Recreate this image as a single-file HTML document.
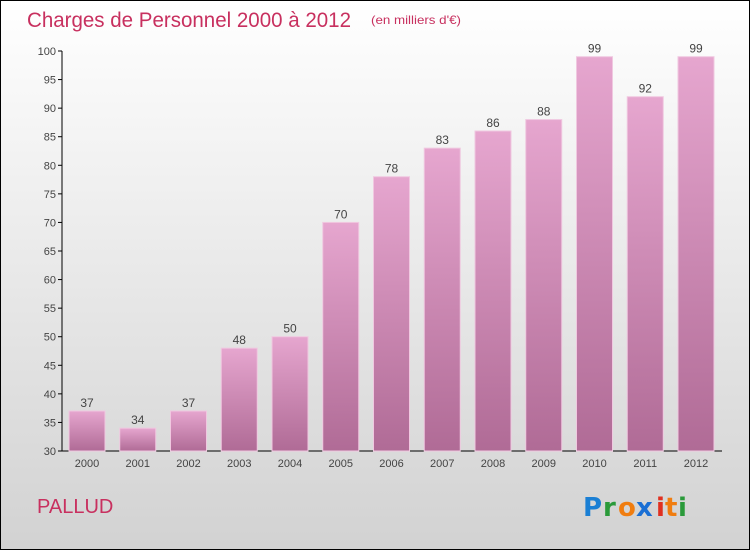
<!DOCTYPE html>
<html><head><meta charset="utf-8"><style>
body{margin:0}
#c{width:748px;height:548px;border:1px solid #000;background:linear-gradient(#ffffff,#d2d2d2);position:relative;overflow:hidden;font-family:"Liberation Sans",sans-serif}
</style></head><body>
<div id="c">
<svg width="748" height="548">
<defs><linearGradient id="g" x1="0" y1="0" x2="0" y2="1"><stop offset="0" stop-color="#e6a6cf"/><stop offset="1" stop-color="#b06b96"/></linearGradient></defs>
<text x="26" y="26" font-size="21" textLength="324" lengthAdjust="spacingAndGlyphs" fill="#c8305f">Charges de Personnel 2000 à 2012</text>
<text x="370" y="23" font-size="12" textLength="90" lengthAdjust="spacingAndGlyphs" fill="#c8305f">(en milliers d'€)</text>
<g id="axes"></g><g id="bars"></g>
<text x="36" y="512" font-size="20" fill="#c8305f">PALLUD</text>
<g font-size="26" font-weight="bold" font-family="'DejaVu Sans',sans-serif">
<text x="582" y="515" fill="#1a7fd4">P</text><text x="602" y="515" fill="#2a9a3a">r</text><text x="617" y="515" fill="#f07d10">o</text><text x="635" y="515" fill="#1a6fd4">x</text><text x="655" y="515" fill="#e03020">i</text><text x="664" y="515" fill="#f07d10">t</text><text x="677" y="515" fill="#2a9a3a">i</text></g>
</svg></div>
<script>
const years=["2000","2001","2002","2003","2004","2005","2006","2007","2008","2009","2010","2011","2012"];
const values=[37,34,37,48,50,70,78,83,86,88,99,92,99];
const yTicks=[30,35,40,45,50,55,60,65,70,75,80,85,90,95,100];
const NS="http://www.w3.org/2000/svg";
const y=v=>450-(v-30)*400/70;
const x=i=>86+i*50.75;
function mk(t,a,p,txt){const e=document.createElementNS(NS,t);for(const k in a)e.setAttribute(k,a[k]);if(txt!==undefined)e.textContent=txt;p.appendChild(e);return e;}
const ax=document.getElementById('axes'),bg=document.getElementById('bars');
let l=mk('line',{x1:61,y1:50,x2:61,y2:450,stroke:'#000'},ax);


l=mk('line',{x1:61,y1:450,x2:721,y2:450,stroke:'#000'},ax);


yTicks.forEach(v=>{
 mk('line',{x1:57,y1:y(v),x2:61,y2:y(v),stroke:'#000'},ax);
 const t=mk('text',{x:55,y:y(v)+4,'font-size':11,'text-anchor':'end',fill:'#444'},ax,v);
 
 
});
years.forEach((yr,i)=>{
 const r=mk('rect',{x:x(i)-18,y:y(values[i]),width:36,height:450-y(values[i]),fill:'url(#g)',stroke:'#f0c8e0','stroke-width':1},bg);
 
 
 const v=mk('text',{x:x(i),y:y(values[i])-4,'font-size':12,'text-anchor':'middle',fill:'#444'},bg,values[i]);
 
 
 const t=mk('text',{x:x(i),y:466,'font-size':11,'text-anchor':'middle',fill:'#444'},ax,yr);
 
 
});
</script>
</body></html>
